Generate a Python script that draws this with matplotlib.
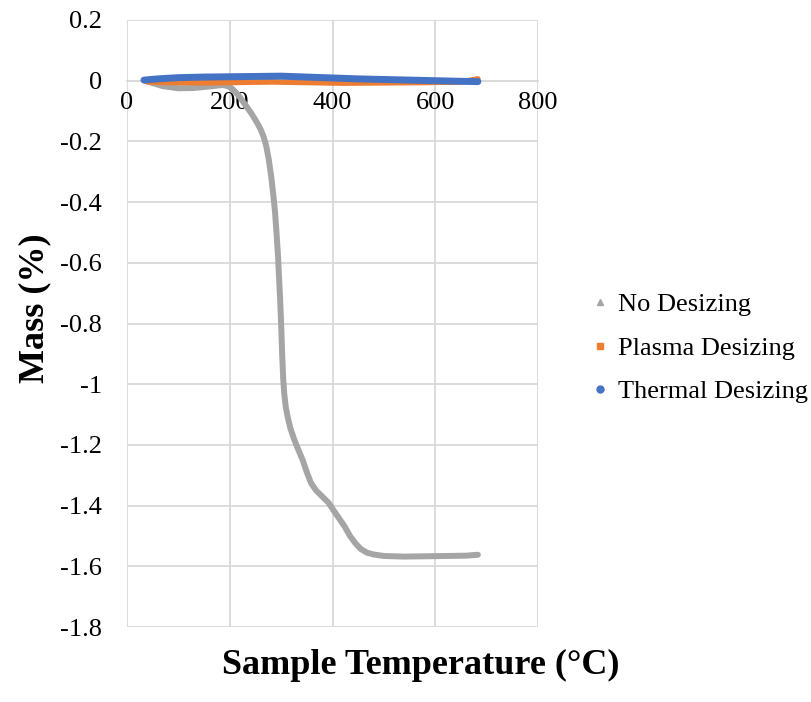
import matplotlib
matplotlib.use("Agg")
import matplotlib.pyplot as plt
from matplotlib.lines import Line2D

# ---- data ----
no_temp = [35, 50, 70, 100, 130, 160, 187, 200, 210, 220, 233, 243, 253, 260,
           266, 271, 276, 281, 285, 288, 291, 294, 296, 298, 300, 302, 304, 306,
           309, 313, 318, 324, 331, 342, 350, 358, 368, 380, 392, 401, 412, 424,
           434, 445, 455, 467, 480, 500, 540, 580, 620, 660, 683]
no_mass = [0.0, -0.008, -0.018, -0.025, -0.024, -0.019, -0.014, -0.02, -0.035,
           -0.055, -0.086, -0.11, -0.138, -0.16, -0.185, -0.215, -0.26, -0.32,
           -0.38, -0.43, -0.50, -0.58, -0.65, -0.72, -0.80, -0.90, -0.98, -1.03,
           -1.075, -1.11, -1.145, -1.175, -1.206, -1.25, -1.29, -1.325, -1.35,
           -1.37, -1.39, -1.413, -1.44, -1.47, -1.50, -1.525, -1.543, -1.555,
           -1.561, -1.566, -1.568, -1.567, -1.566, -1.565, -1.562]

plasma_temp = [40, 80, 150, 200, 280, 350, 420, 500, 580, 650, 683]
plasma_mass = [-0.004, -0.006, -0.007, -0.006, -0.004, -0.006, -0.008, -0.007,
               -0.006, -0.004, 0.006]

thermal_temp = [33, 60, 100, 150, 200, 250, 300, 350, 400, 450, 500, 550, 600, 650, 683]
thermal_mass = [0.002, 0.006, 0.01, 0.012, 0.013, 0.014, 0.015, 0.012, 0.009,
                0.006, 0.004, 0.002, 0.0, -0.002, -0.003]

x_ticks = [0, 200, 400, 600, 800]
y_ticks = [0.2, 0, -0.2, -0.4, -0.6, -0.8, -1, -1.2, -1.4, -1.6, -1.8]

GREY = '#A5A5A5'
ORANGE = '#ED7D31'
BLUE = '#4472C4'
GRID = '#D9D9D9'

plt.rcParams['font.family'] = ['Liberation Serif', 'DejaVu Serif']
plt.rcParams['axes.unicode_minus'] = False

fig = plt.figure(figsize=(8.12, 7.02), dpi=100)
ax = fig.add_axes([127 / 812, 75 / 702, 411 / 812, 607 / 702])

ax.plot(no_temp, no_mass, color=GREY, lw=4.3, solid_capstyle='round',
        solid_joinstyle='round', zorder=3)
ax.plot(plasma_temp, plasma_mass, color=ORANGE, lw=4, solid_capstyle='round', zorder=4)
ax.plot(thermal_temp, thermal_mass, color=BLUE, lw=5, solid_capstyle='round', zorder=5)

ax.set_xlim(0, 800)
ax.set_ylim(-1.8, 0.2)
ax.set_xticks(x_ticks)
ax.set_yticks(y_ticks)
ax.set_xticklabels([f'{v:g}' for v in x_ticks])
ax.set_yticklabels([f'{v:g}' for v in y_ticks])
ax.grid(True, color=GRID, lw=1.3, zorder=0)
ax.set_axisbelow(True)

for s in ['top', 'right', 'left']:
    ax.spines[s].set_visible(False)
ax.spines['bottom'].set_position(('data', 0))
ax.spines['bottom'].set_color(GRID)
ax.spines['bottom'].set_linewidth(1.3)
ax.tick_params(axis='both', length=0, labelsize=19)
ax.tick_params(axis='x', pad=8)
ax.tick_params(axis='y', pad=18)

fig.text(35 / 812, 1 - 308 / 702, 'Mass (%)', rotation=90, fontsize=26,
         fontweight='bold', ha='center', va='center')
fig.text(421 / 812, 1 - 665 / 702, 'Sample Temperature (°C)', fontsize=26,
         fontweight='bold', ha='center', va='center')

handles = [
    Line2D([], [], ls='none', marker='^', color=GREY, markersize=5),
    Line2D([], [], ls='none', marker='s', color=ORANGE, markersize=5),
    Line2D([], [], ls='none', marker='o', color=BLUE, markersize=5),
]
labels = ['No Desizing', 'Plasma Desizing', 'Thermal Desizing']
fig.legend(handles, labels, loc='center left', bbox_to_anchor=(592 / 812, 1 - 348 / 702),
           frameon=False, fontsize=19, handlelength=0.6, handletextpad=0.4,
           labelspacing=0.75, borderpad=0, borderaxespad=0)

fig.savefig('out.png', dpi=100)
